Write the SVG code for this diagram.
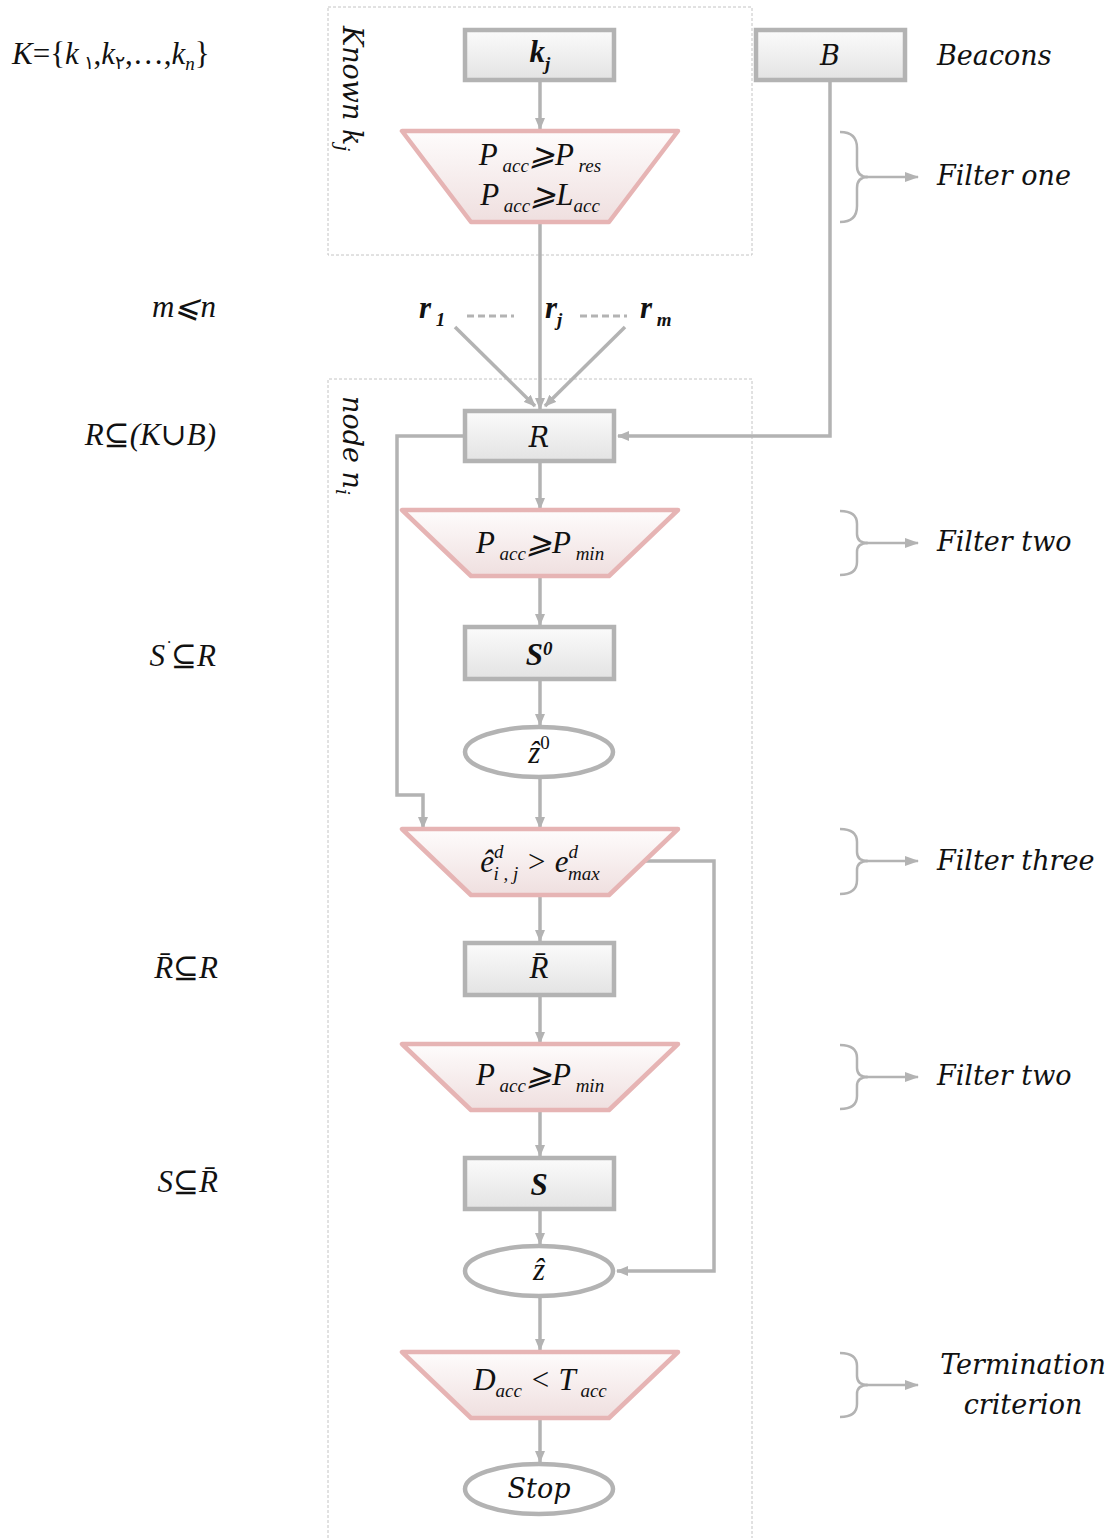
<svg xmlns="http://www.w3.org/2000/svg" width="1117" height="1538" viewBox="0 0 1117 1538">
<style>
.bx{fill:url(#gr);stroke:#b3b3b3;stroke-width:4.5}
.tz{fill:url(#gp);stroke:#e6b4b4;stroke-width:4.5;stroke-linejoin:round}
.el{fill:#fff;stroke:#b3b3b3;stroke-width:4.5}
.cn{fill:none;stroke:#b3b3b3;stroke-width:3.5}
.br{fill:none;stroke:#b3b3b3;stroke-width:2.5}
.dsh{fill:none;stroke:#c4c4c4;stroke-width:1;stroke-dasharray:3 2}
.m{font-family:"Liberation Serif","DejaVu Serif",serif;font-style:italic;font-size:31px;fill:#111}
.c{font-family:"DejaVu Serif",serif;font-style:italic;font-size:27px;fill:#111}
.sb{font-size:19px}
</style>
<defs>
<linearGradient id="gr" x1="0" y1="0" x2="0" y2="1"><stop offset="0" stop-color="#fbfbfb"/><stop offset="1" stop-color="#e3e3e3"/></linearGradient>
<linearGradient id="gp" x1="0" y1="0" x2="0" y2="1"><stop offset="0" stop-color="#fefcfc"/><stop offset="1" stop-color="#efdfdf"/></linearGradient>
<marker id="ah" markerWidth="12" markerHeight="10" refX="11" refY="5" orient="auto" markerUnits="userSpaceOnUse"><path d="M0,0 L12,5 L0,10 Z" fill="#b3b3b3"/></marker>
<marker id="ab" markerWidth="14" markerHeight="10" refX="13" refY="5" orient="auto" markerUnits="userSpaceOnUse"><path d="M0,0 L14,5 L0,10 Z" fill="#b3b3b3"/></marker>
</defs>
<rect x="0" y="0" width="1117" height="1538" fill="#fff"/>

<g id="regions">
<rect class="dsh" x="328" y="7" width="424" height="248"/>
<path class="dsh" d="M328,1538 V379 H752 V1538"/>
<text class="c" transform="translate(343,26) rotate(90)">Known k<tspan dy="7" class="sb">j</tspan></text>
<text class="c" transform="translate(343,396) rotate(90)">node n<tspan dy="7" class="sb">i</tspan></text>
</g>

<g id="connectors">
<line class="cn" x1="540" y1="82" x2="540" y2="129" marker-end="url(#ah)"/>
<line class="cn" x1="540" y1="222" x2="540" y2="409" marker-end="url(#ah)"/>
<line class="cn" x1="455" y1="327" x2="535" y2="406" marker-end="url(#ah)"/>
<line class="cn" x1="625" y1="327" x2="545" y2="406" marker-end="url(#ah)"/>
<line x1="467" y1="316" x2="514" y2="316" stroke="#b3b3b3" stroke-width="3" stroke-dasharray="7 4"/>
<line x1="580" y1="316" x2="627" y2="316" stroke="#b3b3b3" stroke-width="3" stroke-dasharray="7 4"/>
<polyline class="cn" points="830,82 830,436 618,436" marker-end="url(#ah)"/>
<polyline class="cn" points="463,436 397,436 397,795 423,795 423,828" marker-end="url(#ah)"/>
<line class="cn" x1="540" y1="463" x2="540" y2="509" marker-end="url(#ah)"/>
<line class="cn" x1="540" y1="576" x2="540" y2="625" marker-end="url(#ah)"/>
<line class="cn" x1="540" y1="681" x2="540" y2="725" marker-end="url(#ah)"/>
<line class="cn" x1="540" y1="779" x2="540" y2="828" marker-end="url(#ah)"/>
<polyline class="cn" points="645,861 714,861 714,1271 617,1271" marker-end="url(#ah)"/>
<line class="cn" x1="540" y1="895" x2="540" y2="941" marker-end="url(#ah)"/>
<line class="cn" x1="540" y1="997" x2="540" y2="1043" marker-end="url(#ah)"/>
<line class="cn" x1="540" y1="1110" x2="540" y2="1156" marker-end="url(#ah)"/>
<line class="cn" x1="540" y1="1211" x2="540" y2="1244" marker-end="url(#ah)"/>
<line class="cn" x1="540" y1="1298" x2="540" y2="1350" marker-end="url(#ah)"/>
<line class="cn" x1="540" y1="1418" x2="540" y2="1462" marker-end="url(#ah)"/>
</g>

<g id="braces">
<path class="br" d="M840,132 Q857,132 857,148 V166 Q857,177 868,177 Q857,177 857,188 V206 Q857,222 840,222"/>
<line class="br" x1="866" y1="177" x2="918" y2="177" marker-end="url(#ab)"/>
<path class="br" d="M840,511 Q857,511 857,524 V534 Q857,543 868,543 Q857,543 857,552 V562 Q857,575 840,575"/>
<line class="br" x1="866" y1="543" x2="918" y2="543" marker-end="url(#ab)"/>
<path class="br" d="M840,829 Q857,829 857,842 V852 Q857,861 868,861 Q857,861 857,870 V880 Q857,894 840,894"/>
<line class="br" x1="866" y1="861" x2="918" y2="861" marker-end="url(#ab)"/>
<path class="br" d="M840,1045 Q857,1045 857,1058 V1068 Q857,1077 868,1077 Q857,1077 857,1086 V1096 Q857,1109 840,1109"/>
<line class="br" x1="866" y1="1077" x2="918" y2="1077" marker-end="url(#ab)"/>
<path class="br" d="M840,1353 Q857,1353 857,1366 V1376 Q857,1385 868,1385 Q857,1385 857,1394 V1404 Q857,1417 840,1417"/>
<line class="br" x1="866" y1="1385" x2="918" y2="1385" marker-end="url(#ab)"/>
</g>

<g id="node-kj"><rect class="bx" x="465" y="30" width="149" height="50"/>
<text class="m" x="540" y="62" text-anchor="middle" font-weight="bold">k<tspan dy="8" class="sb">j</tspan></text></g>
<g id="node-B"><rect class="bx" x="756" y="30" width="149" height="50"/>
<text class="c" x="830" y="65" text-anchor="middle" font-size="29">B</text></g>
<g id="node-filter1"><polygon class="tz" points="402,131 678,131 609,222 471,222"/>
<text class="m" x="540" y="165" text-anchor="middle">P<tspan dy="7" class="sb"> acc</tspan><tspan dy="-7">⩾P</tspan><tspan dy="7" class="sb"> res</tspan></text>
<text class="m" x="540" y="205" text-anchor="middle">P<tspan dy="7" class="sb"> acc</tspan><tspan dy="-7">⩾L</tspan><tspan dy="7" class="sb">acc</tspan></text></g>
<g id="node-r">
<text class="m" x="419" y="318" font-weight="bold">r<tspan dy="8" class="sb"> 1</tspan></text>
<text class="m" x="545" y="318" font-weight="bold">r<tspan dy="8" class="sb">j</tspan></text>
<text class="m" x="640" y="318" font-weight="bold">r<tspan dy="8" class="sb"> m</tspan></text></g>
<g id="node-R"><rect class="bx" x="465" y="411" width="149" height="50"/>
<text class="c" x="539" y="447" text-anchor="middle" font-size="29">R</text></g>
<g id="node-filter2"><polygon class="tz" points="402,510 678,510 609,576 471,576"/>
<text class="m" x="540" y="553" text-anchor="middle">P<tspan dy="7" class="sb"> acc</tspan><tspan dy="-7">⩾P</tspan><tspan dy="7" class="sb"> min</tspan></text></g>
<g id="node-S0"><rect class="bx" x="465" y="627" width="149" height="52"/>
<text class="m" x="539" y="665" text-anchor="middle" font-weight="bold">S<tspan dy="-10" class="sb">0</tspan></text></g>
<g id="node-z0"><ellipse class="el" cx="539" cy="752" rx="74" ry="25"/>
<text class="m" x="539" y="763" text-anchor="middle">ẑ<tspan dy="-14" class="sb" font-style="normal">0</tspan></text></g>
<g id="node-filter3"><polygon class="tz" points="402,829 678,829 609,895 471,895"/>
<text class="m" x="540" y="872" text-anchor="middle">ê<tspan dy="-14" class="sb">d</tspan><tspan dx="-10" dy="22" class="sb">i , j</tspan><tspan dy="-8"> &gt; e</tspan><tspan dy="-14" class="sb">d</tspan><tspan dx="-10" dy="22" class="sb">max</tspan></text></g>
<g id="node-Rbar"><rect class="bx" x="465" y="943" width="149" height="52"/>
<text class="m" x="539" y="978" text-anchor="middle">R̄</text></g>
<g id="node-filter2b"><polygon class="tz" points="402,1044 678,1044 609,1110 471,1110"/>
<text class="m" x="540" y="1085" text-anchor="middle">P<tspan dy="7" class="sb"> acc</tspan><tspan dy="-7">⩾P</tspan><tspan dy="7" class="sb"> min</tspan></text></g>
<g id="node-S"><rect class="bx" x="465" y="1158" width="149" height="51"/>
<text class="m" x="539" y="1195" text-anchor="middle" font-weight="bold">S</text></g>
<g id="node-z"><ellipse class="el" cx="539" cy="1271" rx="74" ry="25"/>
<text class="m" x="539" y="1280" text-anchor="middle">ẑ</text></g>
<g id="node-term"><polygon class="tz" points="402,1352 678,1352 609,1418 471,1418"/>
<text class="m" x="540" y="1390" text-anchor="middle">D<tspan dy="7" class="sb">acc</tspan><tspan dy="-7"> &lt; T</tspan><tspan dy="7" class="sb"> acc</tspan></text></g>
<g id="node-stop"><ellipse class="el" cx="539" cy="1489" rx="74" ry="25"/>
<text class="c" x="539" y="1498" text-anchor="middle" font-size="27">Stop</text></g>

<g id="annotations">
<text class="c" x="937" y="65">Beacons</text>
<text class="c" x="937" y="185">Filter one</text>
<text class="c" x="937" y="551">Filter two</text>
<text class="c" x="937" y="870">Filter three</text>
<text class="c" x="937" y="1085">Filter two</text>
<text class="c" x="1023" y="1374" text-anchor="middle">Termination</text>
<text class="c" x="1023" y="1414" text-anchor="middle">criterion</text>
<text class="m" x="12" y="64">K<tspan font-style="normal">={</tspan>k<tspan dy="5" class="sb" font-style="normal"> ١</tspan><tspan dy="-5" font-style="normal">,</tspan>k<tspan dy="5" class="sb" font-style="normal">٢</tspan><tspan dy="-5" font-style="normal">,…,</tspan>k<tspan dy="6" class="sb">n</tspan><tspan dy="-6" font-style="normal">}</tspan></text>
<text class="m" x="216" y="317" text-anchor="end">m⩽n</text>
<text class="m" x="216" y="445" text-anchor="end">R⊆(K∪B)</text>
<text class="m" x="216" y="666" text-anchor="end">S<tspan dy="-12" font-size="18">˙</tspan><tspan dy="12">⊆R</tspan></text>
<text class="m" x="218" y="978" text-anchor="end">R̄⊆R</text>
<text class="m" x="218" y="1192" text-anchor="end">S⊆R̄</text>
</g>
</svg>
